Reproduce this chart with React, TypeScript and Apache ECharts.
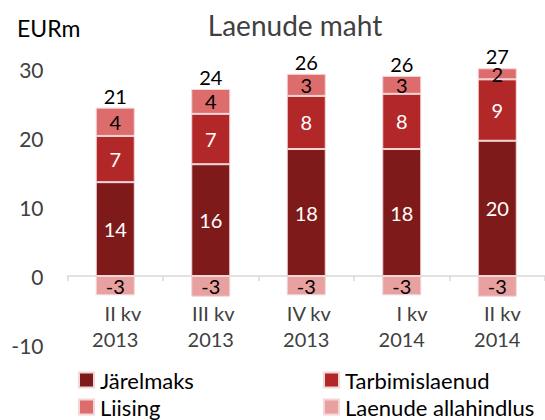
import React, { useEffect, useRef } from "react";
import * as echarts from "echarts";

const categories = ["   II kv\n2013", " III kv\n2013", " IV kv\n2013", "    I kv\n2014", "  II kv\n2014"];
const jarelmaks = [13.6, 16.2, 18.4, 18.4, 19.6];
const tarbimislaenud = [6.7, 7.3, 7.7, 8.0, 8.9];
const liising = [4.1, 3.6, 3.2, 2.6, 1.6];
const allahindlus = [-2.8, -3.0, -2.8, -2.8, -3.0];
const totals = [21, 24, 26, 26, 27];
const yTicks = { min: -10, max: 30, interval: 10 };

const FONT = "Lato";

export default function App() {
  const ref = useRef<HTMLDivElement>(null);
  useEffect(() => {
    if (!ref.current) return;
    const chart = echarts.init(ref.current, null, { renderer: "svg" });
    const fmt = (p: any) => String(Math.round(p.value));
    const border = { borderColor: "#f3d6d6", borderWidth: 1 };
    const BW = 39;
    const lbl = (color: string) => ({
      show: true,
      position: "inside",
      formatter: fmt,
      color,
      fontFamily: FONT,
      fontSize: 20,
    });
    const legendItem = (name: string, left: number, top: number) => ({
      orient: "horizontal",
      left,
      top,
      padding: 0,
      icon: "rect",
      itemWidth: 15,
      itemHeight: 15,
      itemGap: 0,
      data: [name],
      textStyle: { fontFamily: FONT, fontSize: 22, lineHeight: 22, color: "#000", padding: [0, 0, 0, 1] },
    });
    chart.setOption({
      animation: false,
      textStyle: { fontFamily: FONT },
      grid: { left: 67.5, right: -10.5, top: 69, bottom: 75 },
      graphic: [
        {
          type: "text",
          x: 295,
          y: 25,
          style: {
            text: "Laenude maht",
            fontFamily: FONT,
            fontSize: 28,
            fill: "#404040",
            textAlign: "center",
            textVerticalAlign: "middle",
          },
        },
        {
          type: "text",
          x: 17,
          y: 28,
          style: {
            text: "EURm",
            fontFamily: FONT,
            fontSize: 23,
            fill: "#000000",
            textAlign: "left",
            textVerticalAlign: "middle",
          },
        },
      ],
      legend: [
        legendItem("Järelmaks", 78, 369),
        legendItem("Liising", 78, 396),
        legendItem("Tarbimislaenud", 323, 369),
        legendItem("Laenude allahindlus", 323, 396),
      ],
      xAxis: {
        type: "category",
        data: categories,
        axisLine: { show: true, onZero: true, lineStyle: { color: "#d9d9d9", width: 1.5 } },
        axisTick: { show: true, length: 5, lineStyle: { color: "#d9d9d9", width: 1.5 } },
        axisLabel: {
          color: "#404040",
          fontFamily: FONT,
          fontSize: 20,
          lineHeight: 26,
          margin: -45,
        },
      },
      yAxis: {
        type: "value",
        min: yTicks.min,
        max: yTicks.max,
        interval: yTicks.interval,
        splitLine: { show: false },
        axisLine: { show: false },
        axisTick: { show: false },
        axisLabel: { color: "#404040", fontFamily: FONT, fontSize: 21, margin: 24 },
      },
      series: [
        {
          name: "Järelmaks",
          type: "bar",
          stack: "a",
          barWidth: BW,
          data: jarelmaks,
          itemStyle: { color: "#7f1a1a", ...border },
          label: lbl("#ffffff"),
        },
        {
          name: "Tarbimislaenud",
          type: "bar",
          stack: "a",
          barWidth: BW,
          data: tarbimislaenud,
          itemStyle: { color: "#b22828", ...border },
          label: lbl("#ffffff"),
        },
        {
          name: "Liising",
          type: "bar",
          stack: "a",
          barWidth: BW,
          clip: false,
          data: liising,
          itemStyle: { color: "#dd6c6c", ...border },
          label: lbl("#000000"),
        },
        {
          name: "Kokku",
          type: "bar",
          stack: "a",
          barWidth: BW,
          clip: false,
          data: totals.map(() => 0),
          itemStyle: { color: "transparent" },
          label: {
            show: true,
            position: "top",
            distance: 2,
            formatter: (p: any) => String(totals[p.dataIndex]),
            color: "#000000",
            fontFamily: FONT,
            fontSize: 20,
          },
        },
        {
          name: "Laenude allahindlus",
          type: "bar",
          stack: "a",
          barWidth: BW,
          data: allahindlus,
          itemStyle: { color: "#e8a0a0", ...border },
          label: lbl("#000000"),
        },
      ],
    });
    return () => chart.dispose();
  }, []);
  return (
    <div
      ref={ref}
      style={{ position: "fixed", left: 0, top: 0, width: 545, height: 420, background: "#fff" }}
    />
  );
}
